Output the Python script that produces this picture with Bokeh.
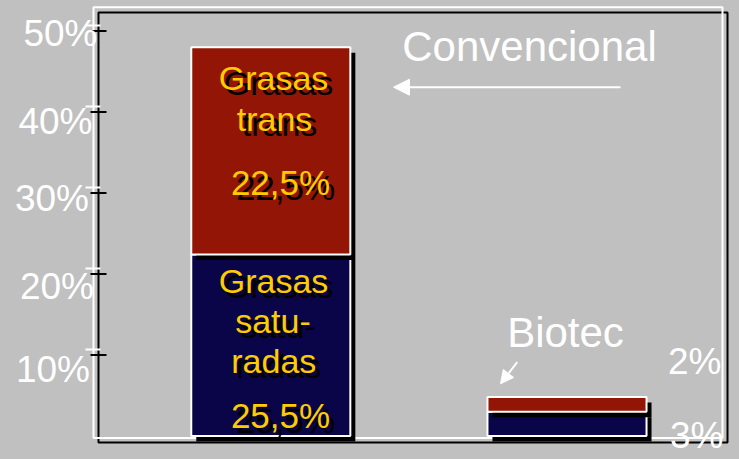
import numpy as np
from bokeh.plotting import figure
from bokeh.models import Range1d, Arrow, NormalHead
from bokeh.core.properties import value
from bokeh.embed import file_html
from bokeh.resources import INLINE

# ---------------- data ----------------
categories = ["Convencional", "Biotec"]
saturadas = [22.4, 3.0]      # lower (navy) segment, %
trans = [25.6, 1.8]          # upper (red) segment, %
tick_values = [10, 20, 30, 40, 50]
tick_labels = ["10%", "20%", "30%", "40%", "50%"]
upper_lines = ["Grasas", "trans", "22,5%"]
lower_lines = ["Grasas", "satu-", "radas", "25,5%"]
biotec_labels = ["2%", "3%"]

# ---------------- layout (pixels) ----------------
W, H = 739, 459
PXX = 296.2      # px per category step
PXY = 8.1        # px per percent
X_PX0 = 270.3    # px of first category centre
Y_PX0 = 435.5    # px of 0 %
BL = 0.38        # empirical baseline correction (fraction of font size)


def xd(px):
    return (px - X_PX0) / PXX


def yd(py):
    return (Y_PX0 - py) / PXY


def fix(size):
    # data-unit upward shift that puts the alphabetic baseline where wanted
    return BL * size / PXY


GRAY = "#c0c0c0"
NAVY = "#0a0548"
RED = "#931505"
YELLOW = "#ffcc00"
SANS = value("Liberation Sans")

p = figure(width=W, height=H, x_range=Range1d(xd(0), xd(W)), y_range=Range1d(yd(H), yd(0)),
           output_backend="svg", toolbar_location=None, min_border=0,
           x_axis_location=None, y_axis_location=None,
           background_fill_color=GRAY, border_fill_color=GRAY, outline_line_color=None)
p.xgrid.visible = False
p.ygrid.visible = False

# frame: black shadow, then white frame
p.quad(left=[xd(98)], right=[xd(727)], bottom=[yd(442)], top=[yd(12)],
       fill_color=None, line_color="black", line_width=2)
p.quad(left=[xd(93)], right=[xd(722)], bottom=[yd(437.5)], top=[yd(6.7)],
       fill_color=None, line_color="white", line_width=2)

# ticks
tv = np.array(tick_values, dtype=float)
p.segment(x0=xd(90), x1=xd(106), y0=tv, y1=tv, line_color="black", line_width=2)
p.segment(x0=xd(85), x1=xd(100), y0=tv + 5.5 / PXY, y1=tv + 5.5 / PXY,
          line_color="white", line_width=2)

# tick labels (hand-placed in original)
TS = 37
lab_right = np.array([89.5, 93.5, 88.5, 92.0, 97.0])
lab_base_off = np.array([28.8, 26.5, 19.2, 23.5, 16.2])
p.text(x=xd(lab_right), y=tv - lab_base_off / PXY + fix(TS), text=tick_labels,
       text_color="white", text_font=SANS, text_font_size=f"{TS}px",
       text_align="right", text_baseline="alphabetic")

# bars
x = np.arange(len(categories), dtype=float)
bw = 0.537
sat = np.array(saturadas)
tr = np.array(trans)
left, right = x - bw / 2, x + bw / 2
sdx, sdy = 5 / PXX, 5.5 / PXY
p.quad(left=left + sdx, right=right + sdx, bottom=0 - sdy, top=sat - sdy,
       fill_color="black", line_color=None)
p.quad(left=left, right=right, bottom=0, top=sat,
       fill_color=NAVY, line_color="white", line_width=2)
p.quad(left=left + sdx, right=right + sdx, bottom=sat - sdy, top=sat + tr - sdy,
       fill_color="black", line_color=None)
p.quad(left=left, right=right, bottom=sat, top=sat + tr,
       fill_color=RED, line_color="white", line_width=2)

# bar labels (yellow with black shadow)
up_dx = np.array([2.7, 3.7, 9.7])
up_dy = np.array([43.3, 84.3, 148.3])
up_size = [34, 34, 35]
lo_dx = np.array([2.7, 2.2, 3.0, 9.7])
lo_dy = np.array([39.2, 78.9, 118.9, 173.9])
lo_size = [34, 34, 34, 35]
top_up = sat[0] + tr[0]
top_lo = sat[0]
for texts, dxs, dys, sizes, top in [(upper_lines, up_dx, up_dy, up_size, top_up),
                                    (lower_lines, lo_dx, lo_dy, lo_size, top_lo)]:
    xs = x[0] + dxs / PXX
    ys = top - dys / PXY
    for t, xx, yy, fs in zip(texts, xs, ys, sizes):
        yy = yy + fix(fs)
        p.text(x=[xx + 5 / PXX], y=[yy - 5 / PXY], text=[t], text_color="black",
               text_font=SANS, text_font_size=f"{fs}px", text_align="center",
               text_baseline="alphabetic")
        p.text(x=[xx], y=[yy], text=[t], text_color=YELLOW,
               text_font=SANS, text_font_size=f"{fs}px", text_align="center",
               text_baseline="alphabetic")

# category annotations
CS = 42
p.text(x=[xd(529)], y=[yd(61.5) + fix(CS)], text=[categories[0]], text_color="white",
       text_font=SANS, text_font_size=f"{CS}px", text_align="center",
       text_baseline="alphabetic")
p.add_layout(Arrow(end=NormalHead(size=16, fill_color="white", line_color="white", line_width=1),
                   x_start=xd(620), y_start=yd(86.7), x_end=xd(393), y_end=yd(86.7),
                   line_color="white", line_width=2))
p.text(x=[xd(565)], y=[yd(347.7) + fix(CS)], text=[categories[1]], text_color="white",
       text_font=SANS, text_font_size=f"{CS}px", text_align="center",
       text_baseline="alphabetic")
p.add_layout(Arrow(end=NormalHead(size=13, fill_color="white", line_color="white", line_width=1),
                   x_start=xd(516.7), y_start=yd(361.7), x_end=xd(500), y_end=yd(383.3),
                   line_color="white", line_width=2))

# biotec values
VS = 37
p.text(x=[xd(721), xd(723)], y=[yd(375) + fix(VS), yd(449) + fix(VS)], text=biotec_labels,
       text_color="white", text_font=SANS, text_font_size=f"{VS}px",
       text_align="right", text_baseline="alphabetic")

html = file_html(p, INLINE)
html = html.replace("<head>", "<head><style>html,body{margin:0;padding:0;background:#c0c0c0;overflow:hidden;}</style>", 1)
open("out.html", "w").write(html)
